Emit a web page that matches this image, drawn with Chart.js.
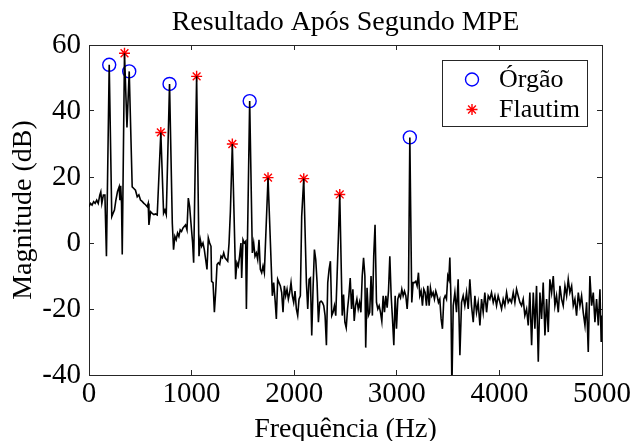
<!DOCTYPE html>
<html>
<head>
<meta charset="utf-8">
<script src="https://cdn.jsdelivr.net/npm/chart.js@4"></script>
<style>
    html, body { margin: 0; padding: 0; background: #fff; }
</style>
</head>
<body>
<canvas id="spectrumChart" width="630" height="441"></canvas>
<script>
// === Data ===
const freqHz = [
    0, 15, 30, 45, 60, 75, 90, 105, 115, 125, 140, 155, 170, 197, 222, 235, 248, 262, 278, 294,
    301, 309, 317, 324, 346, 370, 392, 421, 437, 453, 470, 486, 502, 518, 535, 551, 567, 577, 584, 600,
    616, 632, 649, 665, 700, 727, 740, 753, 785, 812, 824, 837, 850, 863, 876, 889, 902, 915, 928, 941,
    955, 968, 981, 994, 1010, 1020, 1049, 1072, 1085, 1098, 1111, 1124, 1137, 1150, 1163, 1176, 1189, 1195, 1209, 1222,
    1235, 1248, 1261, 1274, 1287, 1300, 1313, 1326, 1339, 1352, 1365, 1378, 1397, 1429, 1442, 1455, 1468, 1481, 1488, 1501,
    1514, 1527, 1534, 1566, 1592, 1605, 1618, 1631, 1644, 1657, 1670, 1683, 1696, 1709, 1745, 1787, 1800, 1813, 1826, 1839,
    1852, 1865, 1878, 1891, 1904, 1917, 1930, 1943, 1956, 1969, 1982, 1995, 2008, 2021, 2034, 2047, 2060, 2073, 2093, 2119,
    2132, 2145, 2158, 2171, 2184, 2197, 2210, 2223, 2236, 2249, 2262, 2275, 2288, 2301, 2314, 2327, 2340, 2353, 2366, 2379,
    2392, 2405, 2418, 2431, 2444, 2468, 2481, 2494, 2507, 2520, 2533, 2546, 2559, 2572, 2585, 2598, 2611, 2624, 2637, 2650,
    2663, 2676, 2689, 2697, 2710, 2723, 2736, 2749, 2762, 2775, 2788, 2802, 2815, 2828, 2841, 2854, 2867, 2880, 2893, 2906,
    2919, 2932, 2945, 2958, 2971, 2984, 2997, 3010, 3023, 3036, 3049, 3062, 3075, 3088, 3101, 3114, 3127, 3146, 3159, 3172,
    3185, 3198, 3211, 3224, 3237, 3250, 3263, 3276, 3289, 3302, 3315, 3328, 3341, 3354, 3367, 3380, 3393, 3406, 3419, 3432,
    3445, 3458, 3471, 3484, 3497, 3507, 3517, 3527, 3537, 3550, 3566, 3582, 3598, 3615, 3631, 3647, 3663, 3680, 3696, 3712,
    3728, 3745, 3761, 3777, 3793, 3810, 3826, 3842, 3858, 3875, 3891, 3907, 3923, 3940, 3956, 3972, 3988, 4005, 4021, 4037,
    4053, 4070, 4086, 4102, 4118, 4135, 4151, 4167, 4183, 4200, 4216, 4232, 4248, 4265, 4281, 4297, 4314, 4330, 4346, 4362,
    4379, 4395, 4411, 4427, 4444, 4460, 4476, 4492, 4509, 4525, 4541, 4557, 4574, 4590, 4606, 4622, 4639, 4655, 4671, 4687,
    4704, 4720, 4736, 4752, 4769, 4785, 4801, 4817, 4834, 4850, 4866, 4882, 4899, 4915, 4931, 4947, 4964, 4980, 4992, 5000
];
const magDb = [
    11, 12, 11.5, 12.5, 12, 13, 12, 14.5, 15.5, 12, 14.5, 14.5, -4, 54, 8, 9, 10, 13, 15.6, 17,
    13, 17.3, 12, -3.5, 57.5, 35, 52, 17, 16.5, 16, 14, 14.6, 13, 12.6, 12, 11.6, 11, 12, 5.5, 9.5,
    9, 8.6, 8.8, 8.5, 33.5, 9, 10, 8.6, 48.2, 6, -2, 2, 1, 3, 2, 4, 3.5, 4.5, 5, 5.5,
    4, 13.6, 11, 6, 0, -6, 50.5, -4, 1, -1, 0, -2, -5, -8, 1.5, 0, -1, -11.6, -12, -21,
    -14.6, -6.5, -6, -6.5, -4, -4.5, -3, -4.5, -5, -5.5, 0, 9.5, 30, -11, -6, -7, -4, 0, -10.6, 1,
    0, 0.5, -20, 43, -3, 0, -4, -3, -5, 1, -8, -9, -7, -9, 19.8, -16, -12, -17, -23, -11,
    -12, -13, -15, -21, -13, -16, -14, -17, -15, -12, -16, -18, -14.6, -20, -22, -17, -16, 8, 19.5, -12,
    -20, -11, -10.6, -28, -13.6, -2, -5, -12, -24, -18, -17.6, -18, -19, -22, -31, -12, -8, -5.5, -22, -21,
    -19, -22, -10, 2, 14.7, -22, -15.6, -24, -25.7, -20, -16, -10.6, -20, -14, -23.6, -19, -17, -20, -18, -21,
    -10, -4.5, -10, -31.7, -13.6, -22, -21, -10, -22, -4, 5.5, -18, -20, -19, -21, -23.7, -16, -21, -16, -19.6,
    -14.6, -4, -16, -23, -31, -16, -26, -17, -15.6, -16.6, -14, -16, -14.6, -16, -20, -14, 32, -18, -12, -12,
    -11.6, -13, -9, -16, -14.6, -19, -14, -15, -19, -13, -19, -13.6, -16, -15, -17, -14.6, -16, -18, -17, -23,
    -26, -17, -16, -17, -10, -11, -4.4, -16, -44, -19, -15, -21, -11, -34, -18, -16, -19, -15, -20, -11,
    -19, -24, -16, -21, -18, -25, -17, -21, -15, -21, -16, -17, -15, -18, -16, -19, -16, -18, -20, -17,
    -19, -15, -18, -17, -18, -15, -18, -14, -16, -18, -19, -17, -22, -20, -25, -15, -31, -15, -26, -13,
    -36, -15, -23, -12, -28, -17, -27, -11, -15, -10, -19, -16, -21, -13, -17, -19, -13, -16, -11, -15,
    -13, -19, -17, -22, -15, -19, -16, -21, -25, -18, -33, -10, -19, -15, -24, -17, -25, -14, -30, -22
];
const orgaoHz = [197, 392, 785, 1566, 3127];
const orgaoDb = [54, 52, 48.2, 43, 32];
const flautimHz = [346, 700, 1049, 1397, 1745, 2093, 2444];
const flautimDb = [57.5, 33.5, 50.5, 30, 19.8, 19.5, 14.7];
const xTicks = [0, 1000, 2000, 3000, 4000, 5000];
const yTicks = [-40, -20, 0, 20, 40, 60];

const toPoints = (xs, ys) => xs.map((x, i) => ({ x: x, y: ys[i] }));

// === Styles ===
const serif = "'Liberation Serif', 'DejaVu Serif', serif";
const axisColor = '#262626';
const tickLen = -5;

// tick values come from the arrays above
const setTicks = (values) => (scale) => {
    scale.ticks = values.map(v => ({ value: v }));
};
const plainNumber = (v) => String(v);

// Main title centred over the plot area
const titlePlugin = {
    id: 'plotTitle',
    afterDraw(chart) {
        const ctx = chart.ctx;
        const area = chart.chartArea;
        ctx.save();
        ctx.fillStyle = '#000';
        ctx.font = '28px ' + serif;
        ctx.textAlign = 'center';
        ctx.textBaseline = 'alphabetic';
        ctx.fillText('Resultado Após Segundo MPE', (area.left + area.right) / 2, 30);
        ctx.restore();
    }
};

// Boxed legend in the top-right corner of the axes (MATLAB style)
const boxLegendPlugin = {
    id: 'boxLegend',
    afterDraw(chart) {
        const ctx = chart.ctx;
        const items = chart.data.datasets.filter(d => d.inLegend);
        const box = { x: 442, y: 60, w: 145, h: 66 };
        ctx.save();
        ctx.fillStyle = '#fff';
        ctx.fillRect(box.x, box.y, box.w, box.h);
        ctx.strokeStyle = axisColor;
        ctx.lineWidth = 1;
        ctx.strokeRect(box.x + 0.5, box.y + 0.5, box.w, box.h);
        items.forEach((d, i) => {
            const cy = box.y + 19.5 + i * 30;
            ctx.strokeStyle = d.borderColor;
            ctx.fillStyle = d.backgroundColor;
            ctx.lineWidth = d.borderWidth;
            Chart.helpers.drawPoint(ctx, {
                pointStyle: d.pointStyle,
                radius: d.pointRadius,
                rotation: 0,
                borderWidth: d.borderWidth
            }, box.x + 30, cy);
            ctx.fillStyle = '#000';
            ctx.font = '26px ' + serif;
            ctx.textAlign = 'left';
            ctx.textBaseline = 'middle';
            ctx.fillText(d.label, box.x + 57, cy + 1);
        });
        ctx.restore();
    }
};

const ctxSpectrum = document.getElementById('spectrumChart').getContext('2d');
const spectrumChart = new Chart(ctxSpectrum, {
    type: 'scatter',
    data: {
        datasets: [{
            label: 'Espectro',
            data: toPoints(freqHz, magDb),
            showLine: true,
            borderColor: '#000',
            borderWidth: 1.6,
            pointRadius: 0,
            tension: 0,
            inLegend: false
        }, {
            label: 'Órgão',
            data: toPoints(orgaoHz, orgaoDb),
            showLine: false,
            pointStyle: 'circle',
            pointRadius: 6.5,
            borderWidth: 1.4,
            borderColor: '#0000ff',
            backgroundColor: 'rgba(0,0,0,0)',
            inLegend: true
        }, {
            label: 'Flautim',
            data: toPoints(flautimHz, flautimDb),
            showLine: false,
            pointStyle: 'star',
            pointRadius: 5.5,
            borderWidth: 1.4,
            borderColor: '#ff0000',
            backgroundColor: '#ff0000',
            inLegend: true
        }]
    },
    options: {
        responsive: false,
        animation: false,
        layout: { padding: 0 },
        plugins: {
            legend: { display: false },
            tooltip: { enabled: false },
            title: { display: false }
        },
        scales: {
            x: {
                type: 'linear',
                position: 'bottom',
                min: 0,
                max: 5000,
                afterBuildTicks: setTicks(xTicks),
                afterFit: (scale) => {
                    // labels may spill past the plot edges, like in MATLAB
                    scale.height = 66;
                    scale.paddingLeft = 0;
                    scale.paddingRight = 0;
                },
                border: { display: true, color: axisColor, width: 1 },
                grid: { drawOnChartArea: false, color: axisColor, tickLength: tickLen },
                ticks: {
                    color: '#000',
                    font: { family: serif, size: 29, lineHeight: 1 },
                    padding: 10,
                    maxRotation: 0,
                    autoSkip: false,
                    callback: plainNumber
                },
                title: {
                    display: true,
                    text: 'Frequência (Hz)',
                    color: '#000',
                    font: { family: serif, size: 28, lineHeight: 0.8 },
                    padding: { top: 0, bottom: 0 }
                }
            },
            xTop: {
                type: 'linear',
                position: 'top',
                min: 0,
                max: 5000,
                afterBuildTicks: setTicks(xTicks),
                afterFit: (scale) => {
                    scale.height = 45;
                    scale.paddingLeft = 0;
                    scale.paddingRight = 0;
                },
                border: { display: true, color: axisColor, width: 1 },
                grid: { drawOnChartArea: false, color: axisColor, tickLength: tickLen },
                ticks: { display: false }
            },
            y: {
                type: 'linear',
                position: 'left',
                min: -40,
                max: 60,
                afterBuildTicks: setTicks(yTicks),
                afterFit: (scale) => { scale.width = 89; },
                border: { display: true, color: axisColor, width: 1 },
                grid: { drawOnChartArea: false, color: axisColor, tickLength: tickLen },
                ticks: {
                    color: '#000',
                    font: { family: serif, size: 29, lineHeight: 1 },
                    padding: 13,
                    callback: plainNumber
                },
                title: {
                    display: true,
                    text: 'Magnitude (dB)',
                    color: '#000',
                    font: { family: serif, size: 28, lineHeight: 1 },
                    padding: { top: 10, bottom: 0 }
                }
            },
            yRight: {
                type: 'linear',
                position: 'right',
                min: -40,
                max: 60,
                afterBuildTicks: setTicks(yTicks),
                afterFit: (scale) => { scale.width = 28; },
                border: { display: true, color: axisColor, width: 1 },
                grid: { drawOnChartArea: false, color: axisColor, tickLength: tickLen },
                ticks: { display: false }
            }
        }
    },
    plugins: [titlePlugin, boxLegendPlugin]
});
</script>
</body>
</html>
